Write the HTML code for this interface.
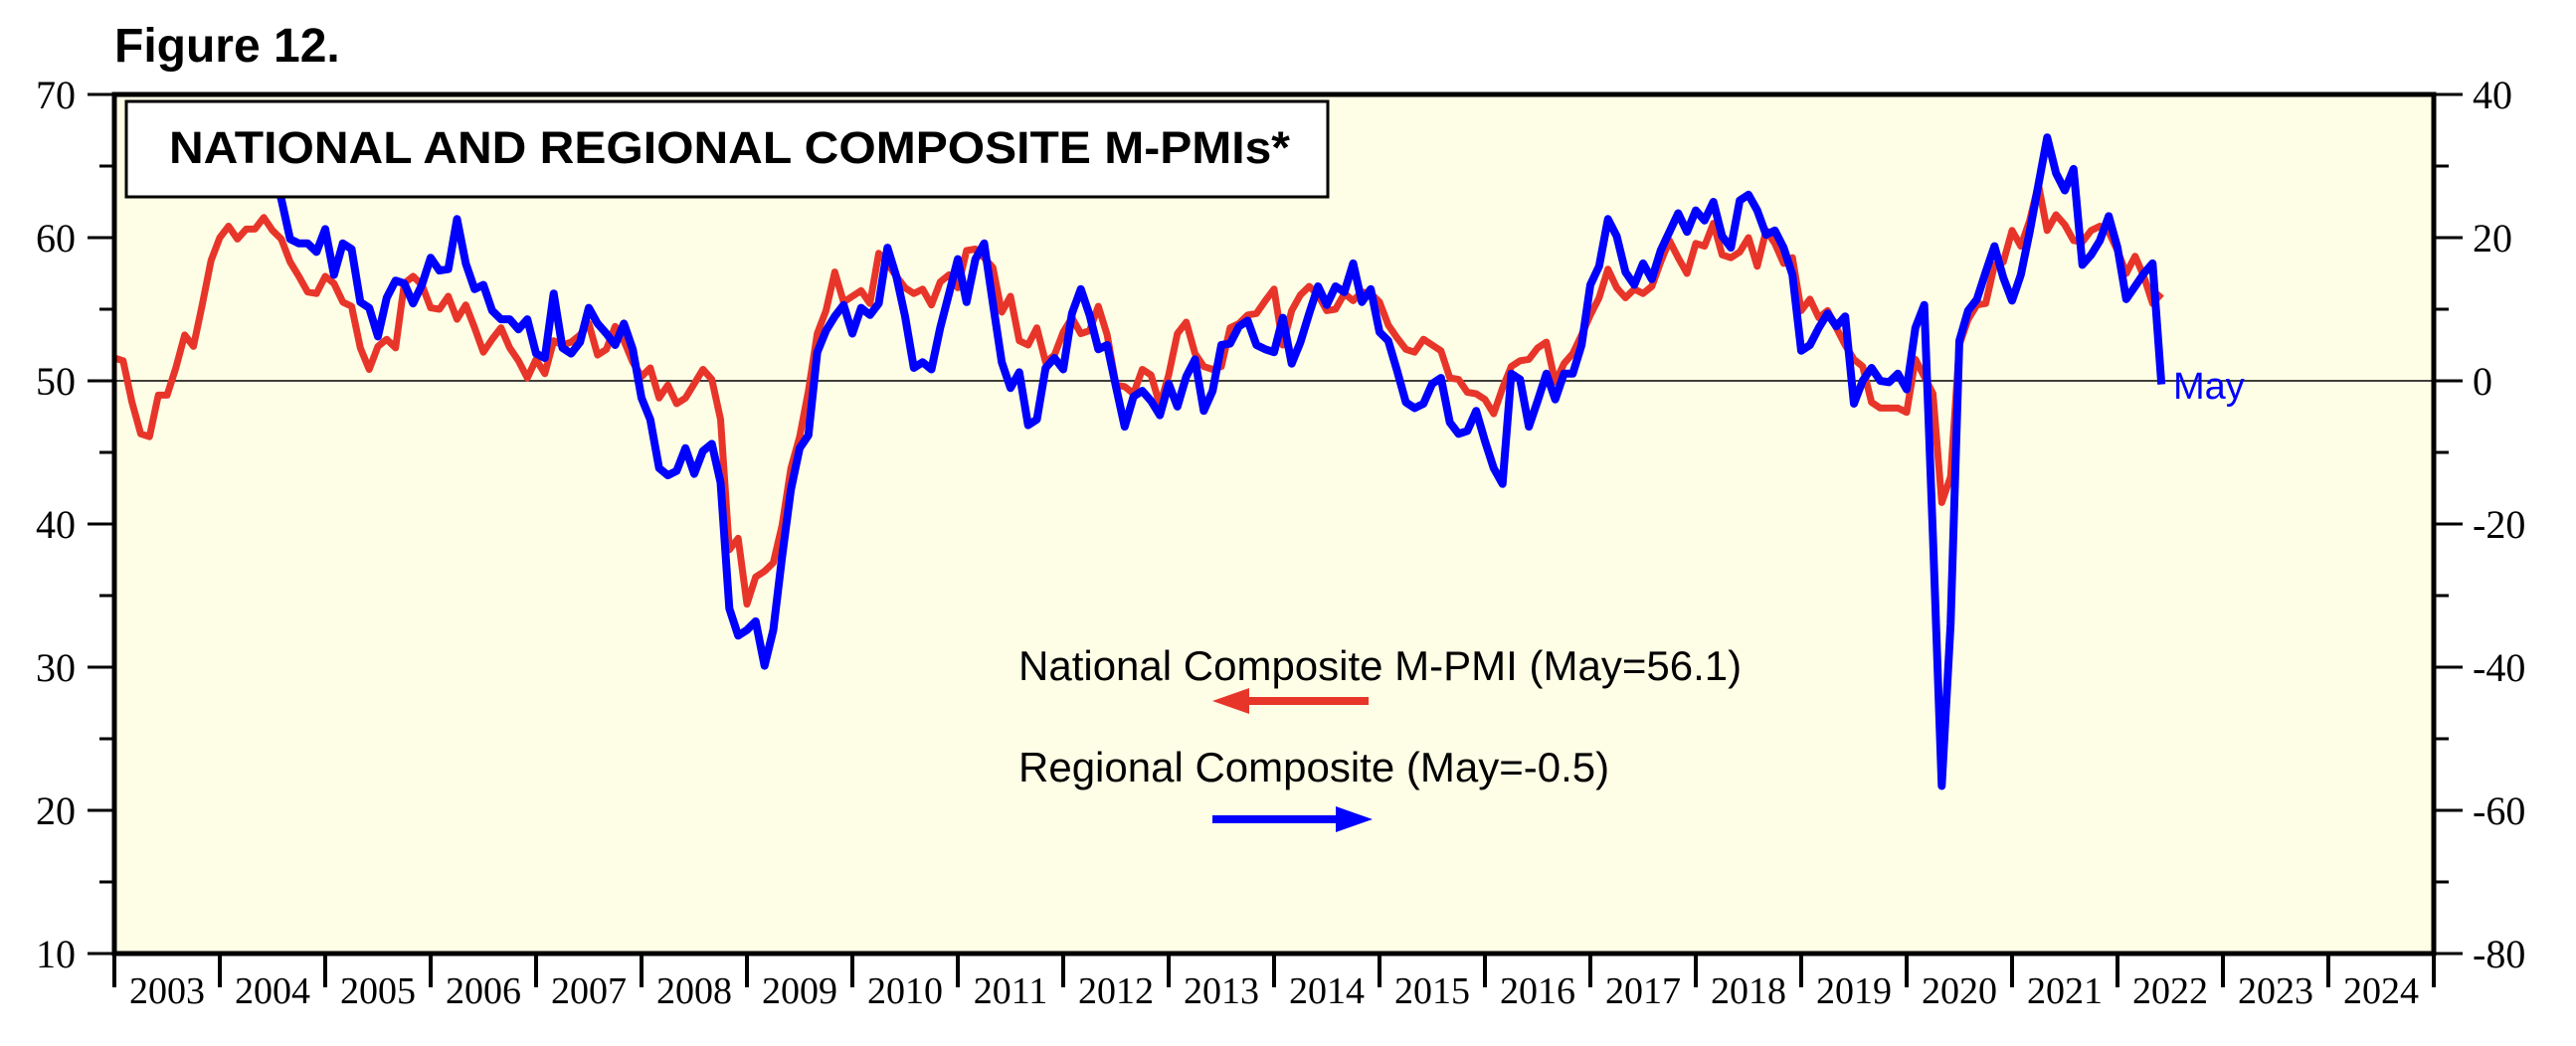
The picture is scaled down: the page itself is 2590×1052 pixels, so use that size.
<!DOCTYPE html>
<html><head><meta charset="utf-8"><style>
html,body{margin:0;padding:0;background:#fff;}
svg{display:block;}
</style></head><body>
<svg id="chart" xmlns="http://www.w3.org/2000/svg" width="2590" height="1052" viewBox="0 0 2590 1052">
<text x="115" y="62" font-family="Liberation Sans, sans-serif" font-weight="bold" font-size="48">Figure 12.</text>
<rect x="115" y="95" width="2332" height="864" fill="#FEFEE6"/>
<g id="gridg"></g>
<g id="lines"></g>
<g>
<rect x="127" y="102" width="1208" height="96" fill="#fff" stroke="#000" stroke-width="3"/>
<text x="170" y="164" font-family="Liberation Sans, sans-serif" font-weight="bold" font-size="45" textLength="1127" lengthAdjust="spacingAndGlyphs">NATIONAL AND REGIONAL COMPOSITE M-PMIs*</text>
</g>
<rect x="115" y="95" width="2332" height="864" fill="none" stroke="#000" stroke-width="5"/>
<g id="axes"></g>
<g font-family="Liberation Sans, sans-serif" font-size="42">
<text x="1024" y="684">National Composite M-PMI (May=56.1)</text>
<line x1="1250" y1="705" x2="1376" y2="705" stroke="#E8352A" stroke-width="8"/>
<polygon points="1219,705 1256,692 1256,718" fill="#E8352A"/>
<text x="1024" y="786">Regional Composite (May=-0.5)</text>
<line x1="1219" y1="824" x2="1345" y2="824" stroke="#0000FF" stroke-width="8"/>
<polygon points="1380,824 1343,811 1343,837" fill="#0000FF"/>
</g>
<text x="2185" y="401" font-family="Liberation Sans, sans-serif" font-size="38" fill="#0000FF">May</text>
</svg>
<script>
const years = [2003,2004,2005,2006,2007,2008,2009,2010,2011,2012,2013,2014,2015,2016,2017,2018,2019,2020,2021,2022,2023,2024];
const leftTicks = [10,20,30,40,50,60,70];
const rightTicks = [-80,-60,-40,-20,0,20,40];
// monthly, first point Dec 2002
const national = [51.6,51.4,48.5,46.3,46.1,49.0,49.0,50.9,53.2,52.4,55.3,58.4,60.0,60.8,59.9,60.6,60.6,61.4,60.5,59.9,58.3,57.3,56.2,56.1,57.3,56.8,55.5,55.2,52.3,50.8,52.4,52.9,52.3,56.8,57.3,56.7,55.1,55.0,55.9,54.3,55.3,53.7,52.0,52.9,53.7,52.3,51.4,50.2,51.5,50.5,
52.8,52.5,52.7,53.2,54.0,51.8,52.2,53.8,52.8,51.3,50.3,50.9,48.8,49.7,48.4,48.8,49.8,50.8,50.1,47.3,38.2,39.0,34.4,36.3,36.7,37.3,39.9,43.9,46.1,49.3,53.3,54.9,57.6,55.5,55.9,56.3,55.4,58.9,58.2,57.3,56.5,56.1,56.4,55.3,56.9,57.4,56.5,59.1,
59.2,58.6,57.9,54.8,55.9,52.8,52.5,53.7,51.3,51.8,53.4,54.4,53.3,53.5,55.2,53.2,49.7,49.6,49.1,50.8,50.4,48.3,50.4,53.3,54.1,51.9,51.0,50.8,51.0,53.7,54.0,54.6,54.7,55.6,56.4,52.5,54.9,56.0,56.6,56.0,54.9,55.0,56.1,55.6,56.2,56.1,55.5,
53.9,53.0,52.2,52.0,52.9,52.5,52.1,50.2,50.1,49.2,49.1,48.7,47.7,49.5,51.0,51.4,51.5,52.3,52.7,49.9,51.2,51.9,53.2,54.6,55.8,57.8,56.5,55.8,56.4,56.1,56.6,58.3,59.8,58.6,57.5,59.6,59.4,61.0,58.8,58.6,59.0,60.0,58.0,60.5,59.6,
58.2,58.6,54.9,55.7,54.4,54.9,53.7,52.5,51.5,51.0,48.5,48.1,48.1,48.1,47.8,51.5,50.3,49.1,41.5,43.3,52.5,54.3,55.3,55.4,58.1,58.3,60.5,59.4,61.2,63.7,60.5,61.6,60.9,59.8,59.7,60.5,60.8,60.4,59.1,57.5,58.7,57.3,55.4,56.1];
const regionalStart = 18;
const regional = [29,25.4,19.8,19.2,19.2,18,21.2,14.8,19.2,18.4,11,10.2,6.2,11.6,14,13.6,10.8,13.4,17.2,15.4,15.6,22.6,16.4,12.8,13.4,9.8,8.6,8.6,7.2,8.6,3.8,3.2,
12.2,4.6,3.8,5.4,10.2,8,6.6,5,8,4.4,-2.4,-5.4,-12.2,-13.2,-12.6,-9.4,-13,-9.8,-8.8,-14.2,-31.8,-35.6,-34.8,-33.6,-39.8,-34.8,-24.6,-15.2,-9.4,-7.6,4,7,9,10.6,6.6,10.2,9.2,10.8,18.6,14.6,9,1.8,2.6,1.6,7.4,12.2,17,11,
17,19.2,10.8,2.6,-1,1.2,-6.2,-5.4,1.8,3.2,1.6,9.4,12.8,9.2,4.4,5,-0.8,-6.4,-2.2,-1.4,-2.8,-4.8,-0.4,-3.6,0.6,3,-4.2,-1.4,5,5.2,7.6,8.4,5,4.4,4,8.8,2.4,5.4,9.4,13.2,10.6,13.2,12.4,16.4,11,12.8,6.8,
5.6,1.4,-3,-3.8,-3.2,-0.4,0.4,-5.8,-7.4,-7,-4.2,-8.4,-12.2,-14.4,1,0.2,-6.4,-2.8,1,-2.6,1,1,5,13.4,16,22.6,20.2,15.2,13.4,16.4,14.2,18.2,20.8,23.4,20.8,23.8,22.4,25,20.2,18.6,25.2,26,23.8,20.4,21,
18.6,14.8,4.2,5,7.4,9.4,7.6,9,-3.2,0,1.8,0,-0.2,1,-1.2,7.4,10.6,-22,-56.6,-34,5.6,9.8,11.4,15.2,18.8,14.4,11.2,14.8,20.8,27.4,34,29,26.6,29.6,16.2,17.6,19.6,23,18.6,11.4,13.2,15,16.4,-0.5];

const X0=115,X1=2447,Y0=95,Y1=959;
const NS='http://www.w3.org/2000/svg';
const monthW=(X1-X0)/(years.length*12);
function xm(i){return X0+i*monthW;}
function yL(v){return Y1-(v-10)/60*(Y1-Y0);}
function yR(v){return Y1-(v+80)/120*(Y1-Y0);}
function mk(tag,attrs,parent){const e=document.createElementNS(NS,tag);for(const k in attrs)e.setAttribute(k,attrs[k]);parent.appendChild(e);return e;}

const grid=document.getElementById('gridg');
const ref=mk('line',{x1:X0,x2:X1,y1:yL(50),y2:yL(50),stroke:'#000','stroke-width':1.5},grid);



const lines=document.getElementById('lines');
let d='';national.forEach((v,i)=>{d+=(i?'L':'M')+xm(i).toFixed(1)+','+yL(v).toFixed(1);});
const pn=mk('path',{d:d,fill:'none',stroke:'#E8352A','stroke-width':7,'stroke-linejoin':'round'},lines);


d='';regional.forEach((v,i)=>{d+=(i?'L':'M')+xm(i+regionalStart).toFixed(1)+','+yR(v).toFixed(1);});
const pr=mk('path',{d:d,fill:'none',stroke:'#0000FF','stroke-width':8,'stroke-linejoin':'round'},lines);



const ax=document.getElementById('axes');
const font='Liberation Serif, serif';
leftTicks.forEach((v,i)=>{
  const y=yL(v);
  const t=mk('line',{x1:88,x2:X0,y1:y,y2:y,stroke:'#000','stroke-width':3},ax);
  
  
  if(i<leftTicks.length-1){const m=mk('line',{x1:100,x2:X0,y1:yL(v+5),y2:yL(v+5),stroke:'#000','stroke-width':3},ax);
  
  }
  const tx=mk('text',{x:76,y:y+14,'text-anchor':'end','font-family':font,'font-size':40},ax);
  
  
  tx.textContent=v;
});
rightTicks.forEach((v,i)=>{
  const y=yR(v);
  const t=mk('line',{x1:X1,x2:2476,y1:y,y2:y,stroke:'#000','stroke-width':3},ax);
  
  
  if(i<rightTicks.length-1){const m=mk('line',{x1:X1,x2:2462,y1:yR(v+10),y2:yR(v+10),stroke:'#000','stroke-width':3},ax);
  
  }
  const tx=mk('text',{x:2486,y:y+14,'font-family':font,'font-size':40},ax);
  
  
  tx.textContent=v;
});
years.forEach((yr,i)=>{
  const x=xm(i*12);
  const t=mk('line',{x1:x,x2:x,y1:Y1,y2:993,stroke:'#000','stroke-width':4},ax);
  
  
  const tx=mk('text',{x:x+6*monthW,y:1009,'text-anchor':'middle','font-family':font,'font-size':38},ax);
  
  
  tx.textContent=yr;
});
const lt=mk('line',{x1:X1,x2:X1,y1:Y1,y2:993,stroke:'#000','stroke-width':4},ax);


</script>
</body></html>
